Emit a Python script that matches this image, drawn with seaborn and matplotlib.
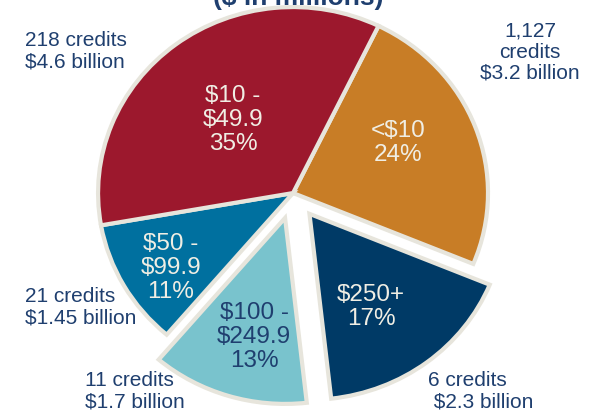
import matplotlib
matplotlib.use("Agg")
import matplotlib.pyplot as plt
import seaborn as sns

# ==========================================
# data (clockwise from the top, starting with <$10)
# ==========================================
ranges = ["<$10", "$250+", "$100 -\n$249.9", "$50 -\n$99.9", "$10 -\n$49.9"]
shares = [24, 17, 13, 11, 35]
credits = ["1,127\ncredits", "6 credits", "11 credits", "21 credits", "218 credits"]
amounts = ["$3.2 billion", " $2.3 billion", "$1.7 billion", "$1.45 billion", "$4.6 billion"]
pulled_out = [0, 0.14, 0.14, 0, 0]

# ==========================================
# styling
# ==========================================
sns.set_theme(style="white")
plt.rcParams["font.family"] = ["Liberation Sans", "DejaVu Sans"]

slice_colors = sns.color_palette(["#C87D26", "#003A66", "#79C3CD", "#00709F", "#9C182D"])
inner_text_colors = ["#F0EEE4", "#F0EEE4", "#1F3F6F", "#F0EEE4", "#F0EEE4"]
navy = "#1F3F6F"
edge = "#E7E5DC"

# label positions (pie radius = 1)
inner_xy = [(0.538, 0.269), (0.40, -0.613), (-0.20, -0.774), (-0.626, -0.403), (-0.308, 0.392)]
outer_xy = [(1.215, 0.758), (0.692, -1.065), (-1.067, -1.065), (-1.374, -0.613), (-1.374, 0.763)]
outer_ha = ["center", "left", "left", "left", "left"]

fig = plt.figure(figsize=(5.89, 4.11), dpi=100)
ax = fig.add_axes([0, 0, 1, 1])

wedges, _ = ax.pie(
    shares,
    colors=slice_colors,
    explode=pulled_out,
    startangle=64,
    counterclock=False,
    wedgeprops=dict(edgecolor=edge, linewidth=3),
)

# the original slide stretches the pie a little horizontally
ax.set_aspect("auto")
ax.set_xlim(-1.503, 1.518)
ax.set_ylim(-1.172, 1.038)
ax.axis("off")

for lab, share, (x, y), col in zip(ranges, shares, inner_xy, inner_text_colors):
    ax.text(x, y, f"{lab}\n{share}%", ha="center", va="center", fontsize=17.5,
            color=col, linespacing=1.1)

for cr, amt, (x, y), ha in zip(credits, amounts, outer_xy, outer_ha):
    ax.text(x, y, f"{cr}\n{amt}", ha=ha, va="center", fontsize=15,
            color=navy, linespacing=1.15, multialignment=ha)

# title sits mostly above the visible area (cut off as in the original slide)
ax.text(0.026, 1.011, "($ in millions)", ha="center", va="baseline",
        fontsize=19, fontweight="bold", color=navy)

fig.savefig("out.png", dpi=100)
